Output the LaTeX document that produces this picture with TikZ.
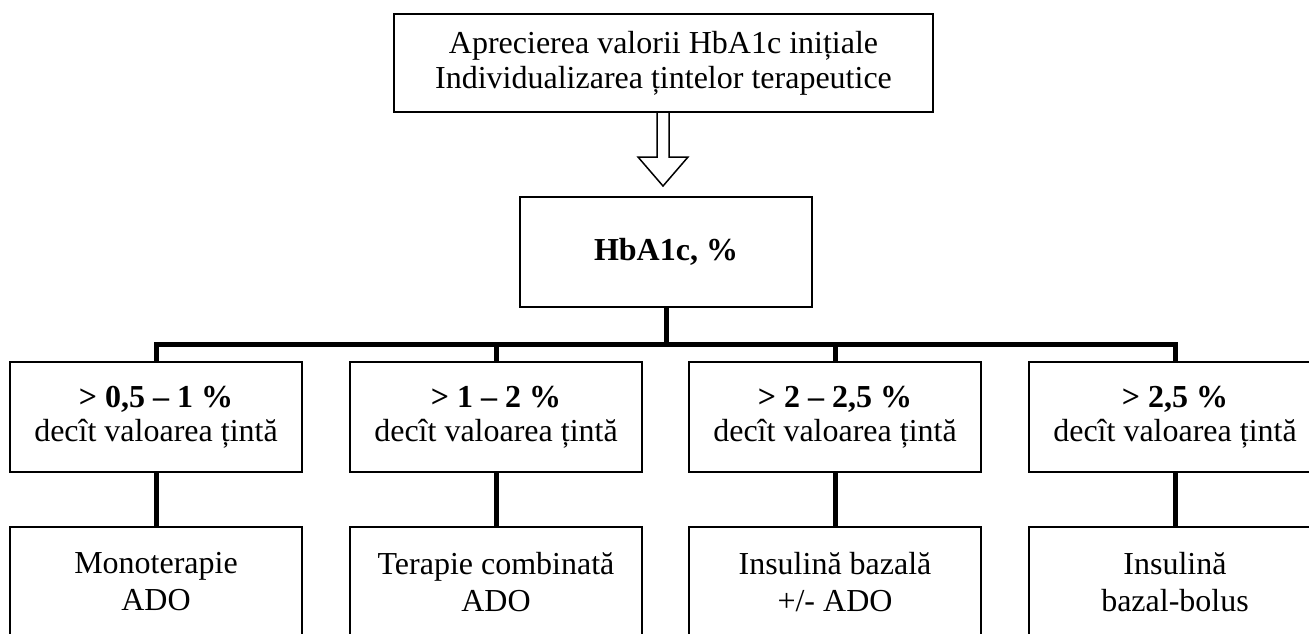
\documentclass[tikz,border=0pt]{standalone}
\usepackage{fontspec}
\setmainfont{Liberation Serif}
\usepackage{tikz}
\tikzstyle{chart}=[x=0.5pt, y=-0.5pt, font=\fontsize{16}{17}\selectfont]
\tikzstyle{box}=[rectangle, draw, line width=0.75pt, align=center, inner sep=0pt, minimum width=146pt, minimum height=55pt]
\tikzstyle{head}=[box, minimum width=269.5pt, minimum height=49pt, font=\fontsize{16}{17.5}\selectfont]
\tikzstyle{therapy}=[box, font=\fontsize{16}{18.5}\selectfont]
\tikzstyle{link}=[line width=2.5pt, line join=miter]
\tikzstyle{hollow}=[line width=0.75pt, line join=miter]

\begin{document}
\begin{tikzpicture}[chart]
	\path[use as bounding box] (0,0) rectangle (1309,633);
	\clip (0,0) rectangle (1309,633);
	\draw (663.5,63) node[head] (start) {Aprecierea valorii HbA1c inițiale\\Individualizarea țintelor terapeutice};
	\draw (666,252) node[box] (hba) {\textbf{HbA1c, \%}};
	\draw (156,417) node[box] (d1) {\textbf{> 0,5 – 1 \%}\\decît valoarea țintă};
	\draw (496,417) node[box] (d2) {\textbf{> 1 – 2 \%}\\decît valoarea țintă};
	\draw (835,417) node[box] (d3) {\textbf{> 2 – 2,5 \%}\\decît valoarea țintă};
	\draw (1175,417) node[box] (d4) {\textbf{> 2,5 \%}\\decît valoarea țintă};
	\draw (156,582) node[therapy] (t1) {Monoterapie\\ADO};
	\draw (496,582) node[therapy] (t2) {Terapie combinată\\ADO};
	\draw (835,582) node[therapy] (t3) {Insulină bazală\\+/- ADO};
	\draw (1175,582) node[therapy] (t4) {Insulină\\bazal-bolus};
	% hollow arrow
	\coordinate (arr) at (663,112);
	\draw[hollow] (arr) ++(-6,0) -- ++(0,45) -- ++(-19,0) -- ++(25,29) -- ++(25,-29) -- ++(-19,0) -- ++(0,-45);
	% bus
	\coordinate (bus) at (666,344);
	\draw[link] (hba.south) -- (bus);
	\draw[link] (d1.north) -- (d1.north |- bus) -- (d4.north |- bus) -- (d4.north);
	\foreach \i in {2,3}
		\draw[link] (d\i.north) -- (d\i.north |- bus);
	\foreach \i in {1,...,4}
		\draw[link] (d\i) -- (t\i);
\end{tikzpicture}
\end{document}
